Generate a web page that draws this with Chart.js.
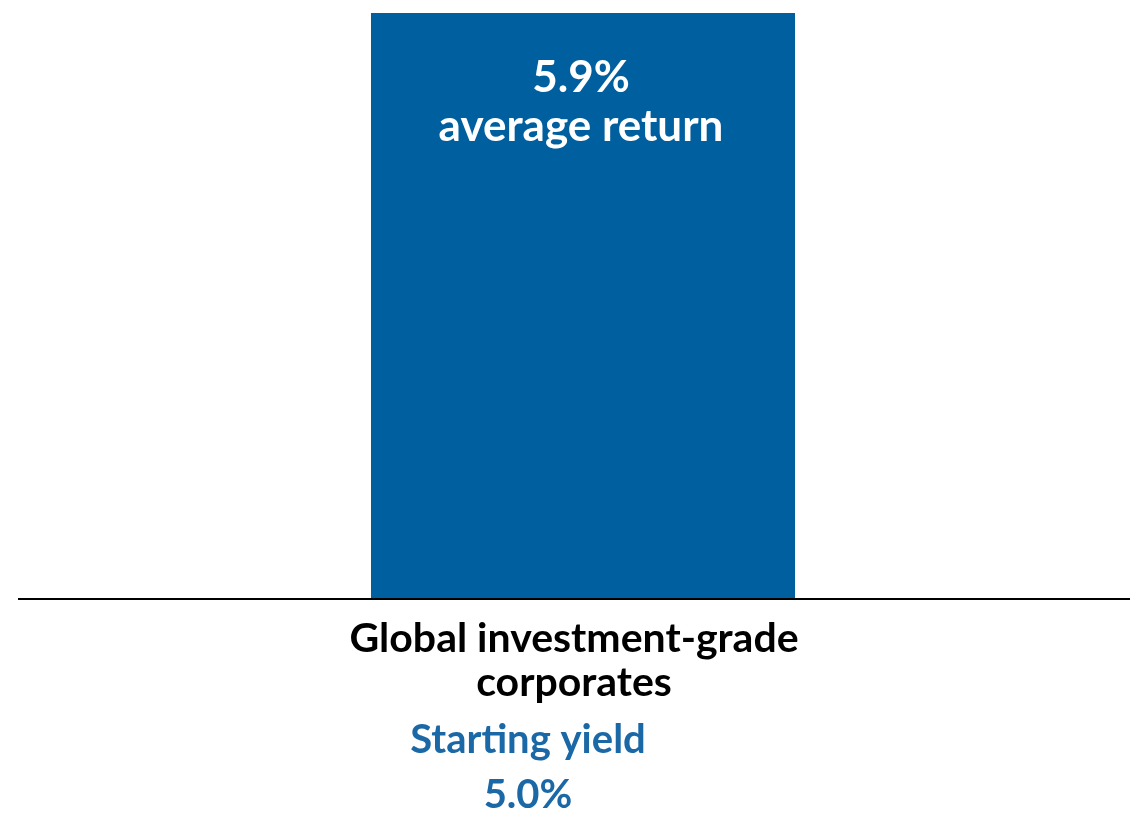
<!DOCTYPE html>
<html>
<head>
<meta charset="utf-8">
<script src="https://cdn.jsdelivr.net/npm/chart.js@4.4.0/dist/chart.umd.min.js"></script>
<style>
  html, body { margin: 0; padding: 0; background: #fff; }
  #wrap { width: 1130px; height: 813px; }
</style>
</head>
<body>
<div id="wrap"><canvas id="grafico"></canvas></div>
<script>
const categorias = [["Global investment-grade", "corporates"]]
const retornos = [5.9]
const rotuloBarra = ["5.9%", "average return"]
const rotuloYield = ["Starting yield", "5.0%"]

const azul = "#005f9e"
const azulTexto = "#1b68a6"
const fonte = "Lato"

// texto dentro da barra, linha do eixo e o yield embaixo
const textos = {
    id: "textos",
    afterDatasetsDraw(chart) {
        const ctx = chart.ctx
        const barra = chart.getDatasetMeta(0).data[0]
        const base = chart.scales.y.getPixelForValue(0)
        ctx.save()
        ctx.strokeStyle = "#000"
        ctx.lineWidth = 2
        ctx.beginPath()
        ctx.moveTo(18, base)
        ctx.lineTo(chart.width, base)
        ctx.stroke()

        ctx.textAlign = "center"
        ctx.textBaseline = "alphabetic"
        ctx.fillStyle = "#fff"
        ctx.font = "bold 44px " + fonte
        ctx.fillText(rotuloBarra[0], barra.x - 2, barra.y + 79)
        ctx.fillText(rotuloBarra[1], barra.x - 2, barra.y + 128)

        ctx.fillStyle = azulTexto
        ctx.font = "bold 40px " + fonte
        const cx = barra.x - 55
        ctx.fillText(rotuloYield[0], cx, 753)
        ctx.fillText(rotuloYield[1], cx, 808)
        ctx.restore()
    }
}

new Chart(document.getElementById("grafico"), {
    type: "bar",
    data: {
        labels: categorias,
        datasets: [{
            data: retornos,
            backgroundColor: azul,
            borderWidth: 0,
            barPercentage: 0.3876,
            categoryPercentage: 1
        }]
    },
    options: {
        responsive: true,
        maintainAspectRatio: false,
        animation: false,
        layout: { padding: { top: 13, left: 36, right: 0, bottom: 0 } },
        plugins: {
            legend: { display: false },
            tooltip: { enabled: false }
        },
        scales: {
            x: {
                grid: { display: false, drawTicks: false },
                border: { display: false },
                ticks: {
                    color: "#000",
                    font: { family: fonte, size: 41, weight: "bold", lineHeight: 1.07 },
                    padding: 18,
                    labelOffset: -9,
                    maxRotation: 0
                },
                afterFit(scale) { scale.height = 214 }
            },
            y: {
                display: false,
                min: 0,
                max: 5.9
            }
        }
    },
    plugins: [textos]
});
</script>
</body>
</html>
